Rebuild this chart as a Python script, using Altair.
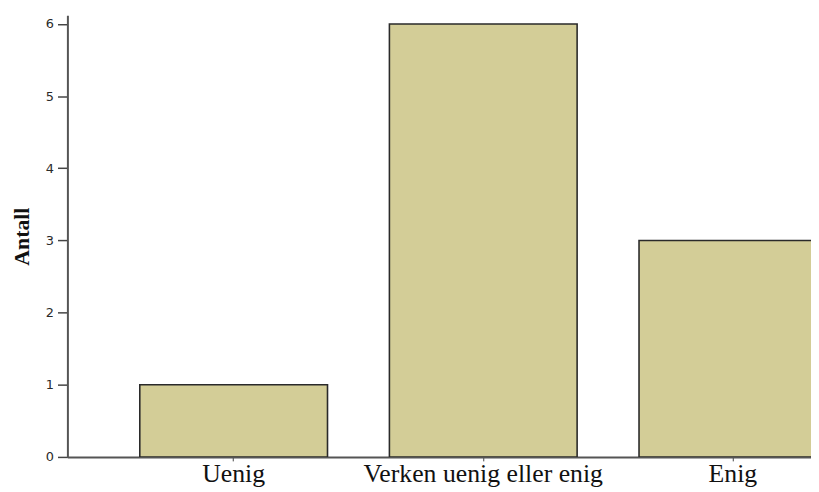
import altair as alt
import pandas as pd

categories = ["Uenig", "Verken uenig eller enig", "Enig"]
counts = [1, 6, 3]
y_ticks = [0, 1, 2, 3, 4, 5, 6]

df = pd.DataFrame({"kategori": categories, "antall": counts})

chart = alt.Chart(df).mark_bar(
    color="#D3CD97", stroke="#2a2a2a", strokeWidth=1.6, clip=True
).encode(
    x=alt.X(
        "kategori:N",
        sort=categories,
        title=None,
        scale=alt.Scale(range=[0, 840], paddingInner=0.248, paddingOuter=0.29),
        axis=alt.Axis(
            labelAngle=0,
            labelFont="Liberation Serif",
            labelFontSize=26,
            labelColor="#111",
            labelLimit=0,
            labelPadding=0,
            tickSize=4,
            tickColor="#444",
            domainColor="#555",
            domainWidth=2,
            grid=False,
        ),
    ),
    y=alt.Y(
        "antall:Q",
        title="Antall",
        scale=alt.Scale(domain=[0, 6.12], nice=False),
        axis=alt.Axis(
            values=y_ticks,
            format="d",
            labelFont="DejaVu Sans",
            labelFontSize=13,
            labelColor="#2a2a2a",
            tickSize=10,
            tickColor="#444",
            tickWidth=1.5,
            domainColor="#555",
            domainWidth=2,
            labelPadding=4,
            grid=False,
            titleFont="Liberation Serif",
            titleFontSize=22,
            titleFontWeight="bold",
            titleColor="#111",
            titlePadding=12,
        ),
    ),
).properties(
    width=751,
    height=446,
    autosize=alt.AutoSizeParams(type="none"),
    padding={"left": 60, "top": 5, "right": 0, "bottom": 30},
).configure_view(stroke=None)

chart.save("out.html", embed_options={"renderer": "svg", "actions": False})
